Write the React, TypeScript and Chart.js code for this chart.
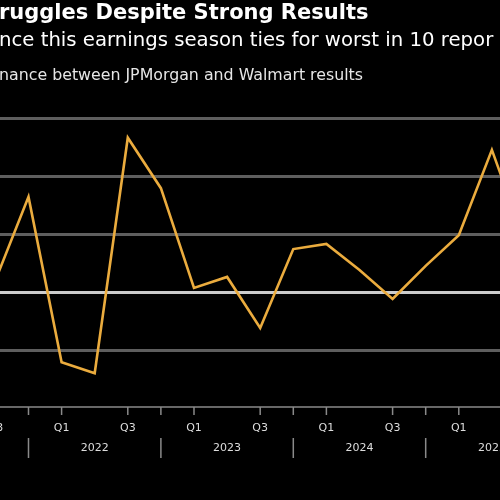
import React, { useEffect, useRef } from "react";
import { Chart, registerables } from "chart.js";

Chart.register(...registerables);

// Quarterly observations (index 0 = Q3 2021)
const quarters = [
  "Q3 2021", "Q4 2021",
  "Q1 2022", "Q2 2022", "Q3 2022", "Q4 2022",
  "Q1 2023", "Q2 2023", "Q3 2023", "Q4 2023",
  "Q1 2024", "Q2 2024", "Q3 2024", "Q4 2024",
  "Q1 2025", "Q2 2025", "Q3 2025",
];
const spread = [
  0.2, 1.64,
  -1.21, -1.4, 2.66, 1.79,
  0.07, 0.26, -0.62, 0.74,
  0.83, 0.38, -0.12, 0.45,
  0.98, 2.45, 0.86,
];
const quarterTickIdx = [0, 2, 4, 6, 8, 10, 12, 14, 16];
const quarterTickLabels = ["Q3", "Q1", "Q3", "Q1", "Q3", "Q1", "Q3", "Q1", "Q3"];
const yearBoundaryIdx = [1, 5, 9, 13, 17];
const years = ["2022", "2023", "2024", "2025"];
const gridValues = [-1, 0, 1, 2, 3];

const titleText = "ruggles Despite Strong Results";
const subtitleText = "nce this earnings season ties for worst in 10 repor";
const unitText = "nance between JPMorgan and Walmart results";

const FONT = "'DejaVu Sans', 'Liberation Sans', sans-serif";
const VIEW_MIN = 0.139;
const VIEW_MAX = 15.245;

export default function App() {
  const ref = useRef<HTMLCanvasElement | null>(null);

  useEffect(() => {
    if (!ref.current) return;
    const axisPlugin = {
      id: "quarterYearAxis",
      afterDraw(chart: any) {
        const xs = chart.scales.x;
        const ctx = chart.ctx;
        const base = chart.chartArea.bottom;
        ctx.save();
        // axis line
        ctx.strokeStyle = "#8a8a8a";
        ctx.lineWidth = 1.5;
        ctx.beginPath();
        ctx.moveTo(0, base);
        ctx.lineTo(chart.width, base);
        ctx.stroke();
        // quarter ticks + labels
        ctx.fillStyle = "#dddddd";
        ctx.font = `11px ${FONT}`;
        ctx.textAlign = "center";
        ctx.textBaseline = "middle";
        quarterTickIdx.forEach((i, k) => {
          const px = xs.getPixelForValue(i);
          ctx.beginPath();
          ctx.moveTo(px, base);
          ctx.lineTo(px, base + 8);
          ctx.stroke();
          ctx.fillText(quarterTickLabels[k], px, base + 21);
        });
        // year boundaries and labels
        yearBoundaryIdx.forEach((i) => {
          const px = xs.getPixelForValue(i);
          ctx.beginPath();
          ctx.moveTo(px, base);
          ctx.lineTo(px, base + 8);
          ctx.moveTo(px, base + 31);
          ctx.lineTo(px, base + 51);
          ctx.stroke();
        });
        years.forEach((y, k) => {
          const mid = (yearBoundaryIdx[k] + yearBoundaryIdx[k + 1]) / 2;
          ctx.fillText(y, xs.getPixelForValue(mid), base + 41);
        });
        ctx.restore();
      },
    };

    const chart = new Chart(ref.current, {
      type: "line",
      data: {
        datasets: [
          {
            data: quarters.map((_, i) => ({ x: i, y: spread[i] })),
            borderColor: "#ebac3e",
            borderWidth: 2.6,
            pointRadius: 0,
            tension: 0,
          },
        ],
      },
      options: {
        animation: false,
        responsive: false,
        maintainAspectRatio: false,
        layout: { padding: { top: 100, left: 0, right: 0, bottom: 93 }, autoPadding: false },
        plugins: { legend: { display: false }, tooltip: { enabled: false }, title: { display: false } },
        scales: {
          x: {
            type: "linear",
            display: false,
            min: VIEW_MIN,
            max: VIEW_MAX,
          },
          y: {
            display: false,
            min: (292 - 407) / 58,
            max: (292 - 100) / 58,
          },
          yGrid: {
            display: true,
            position: "left",
            min: (292 - 407) / 58,
            max: (292 - 100) / 58,
            afterBuildTicks: (s: any) => {
              s.ticks = gridValues.map((v) => ({ value: v }));
            },
            afterFit: (s: any) => {
              s.width = 0;
            },
            ticks: { display: false },
            border: { display: false },
            grid: {
              drawTicks: false,
              lineWidth: 3,
              color: (c: any) => (c.tick && c.tick.value === 0 ? "#cccccc" : "#5e5e5e"),
            },
          },
        },
      },
      plugins: [axisPlugin],
    });
    return () => chart.destroy();
  }, []);

  const textBase: React.CSSProperties = {
    position: "absolute",
    left: -1,
    whiteSpace: "nowrap",
    fontFamily: FONT,
    color: "#ffffff",
    margin: 0,
    lineHeight: 1,
  };

  return (
    <div
      style={{
        position: "fixed",
        left: 0,
        top: 0,
        width: 500,
        height: 500,
        background: "#000",
        overflow: "hidden",
      }}
    >
      <canvas ref={ref} width={500} height={500} style={{ position: "absolute", left: 0, top: 0, width: 500, height: 500 }} />
      <div style={{ ...textBase, top: 2, fontSize: 21, fontWeight: 700 }}>{titleText}</div>
      <div style={{ ...textBase, top: 30, fontSize: 19.7 }}>{subtitleText}</div>
      <div style={{ ...textBase, top: 67, fontSize: 15.8, color: "#e6e6e6" }}>{unitText}</div>
    </div>
  );
}
